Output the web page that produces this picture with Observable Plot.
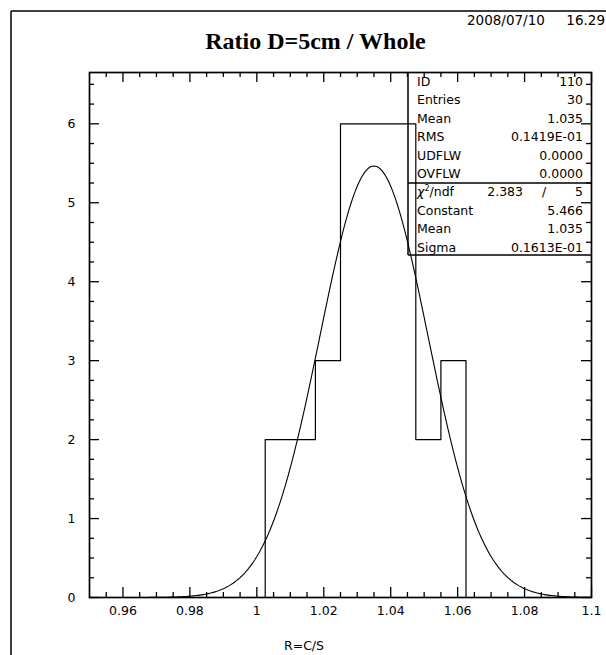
<!DOCTYPE html>
<html>
<head>
<meta charset="utf-8">
<script src="https://cdn.jsdelivr.net/npm/d3@7"></script>
<script src="https://cdn.jsdelivr.net/npm/@observablehq/plot@0.6"></script>
<style>
  html, body { margin: 0; padding: 0; background: #fff; }
  #wrap { position: relative; width: 606px; height: 655px; overflow: hidden; background: #fff; }
  #wrap svg { position: absolute; left: 0; top: 0; }
  #overlay { pointer-events: none; }
</style>
</head>
<body>
<div id="wrap"></div>
<script>
// ---- data ----
const binEdges = [1.0025, 1.01, 1.0175, 1.025, 1.0325, 1.04, 1.0475, 1.055, 1.0625];
const binCounts = [2, 2, 3, 6, 6, 6, 2, 3];

// fitted Gaussian parameters (from the stats box)
const fitConstant = 5.466;
const fitMean = 1.035;
const fitSigma = 0.01613;

// axis ticks and labels
const xMajor = [0.96, 0.98, 1.0, 1.02, 1.04, 1.06, 1.08, 1.1];
const xTickLabels = ["0.96", "0.98", "1", "1.02", "1.04", "1.06", "1.08", "1.1"];
const yMajor = [0, 1, 2, 3, 4, 5, 6];
const yTickLabels = ["0", "1", "2", "3", "4", "5", "6"];

// stats box text
const statLabels = ["ID", "Entries", "Mean", "RMS", "UDFLW", "OVFLW"];
const statValues = ["110", "30", "1.035", "0.1419E-01", "0.0000", "0.0000"];
const chiValue = "2.383";
const ndfValue = "5";
const fitLabels = ["Constant", "Mean", "Sigma"];
const fitValues = ["5.466", "1.035", "0.1613E-01"];

const titleText = "Ratio D=5cm / Whole";
const dateText = "2008/07/10";
const timeText = "16.29";
const xLabel = "R=C/S";

// ---- layout ----
const W = 606, H = 655;
const mL = 89, mR = 15, mT = 72, mB = 58;
const innerW = W - mL - mR, innerH = H - mT - mB;
const xDomain = [0.95, 1.1];
const yDomain = [0, 6.65];

// histogram outline (step)
const histPts = [{x: binEdges[0], y: 0}];
binCounts.forEach((c, i) => histPts.push({x: binEdges[i], y: c}));
histPts.push({x: binEdges[binEdges.length - 1], y: binCounts[binCounts.length - 1]});
histPts.push({x: binEdges[binEdges.length - 1], y: 0});

// fit curve evaluated from the fitted parameters
const fitPts = d3.range(xDomain[0], xDomain[1] + 1e-9, 0.0005).map(x => ({
  x, y: fitConstant * Math.exp(-0.5 * ((x - fitMean) / fitSigma) ** 2)
}));

// minor ticks (axis subdivisions)
const xMinor = d3.range(0.955, 1.1, 0.005).filter(v => !xMajor.some(m => Math.abs(m - v) < 1e-6));
const yMinor = d3.range(0.25, 6.65, 0.25).filter(v => Math.abs(v - Math.round(v)) > 1e-6);

const majorLen = 10, minorLen = 5, tw = 1.3;

const chart = Plot.plot({
  width: W, height: H,
  marginLeft: mL, marginRight: mR, marginTop: mT, marginBottom: mB,
  x: {domain: xDomain, axis: null},
  y: {domain: yDomain, axis: null},
  style: {fontFamily: "DejaVu Sans", fontSize: "12.5px", background: "transparent", color: "black"},
  marks: [
    Plot.line(histPts, {x: "x", y: "y", curve: "step-after", stroke: "black", strokeWidth: 1.2}),
    Plot.line(fitPts, {x: "x", y: "y", stroke: "black", strokeWidth: 1.1, clip: true}),
    // bottom ticks (inward)
    Plot.ruleX(xMajor, {x: d => d, insetTop: innerH - majorLen, strokeWidth: tw}),
    Plot.ruleX(xMinor, {x: d => d, insetTop: innerH - minorLen, strokeWidth: tw}),
    // top ticks (inward)
    Plot.ruleX(xMajor, {x: d => d, insetBottom: innerH - majorLen, strokeWidth: tw}),
    Plot.ruleX(xMinor, {x: d => d, insetBottom: innerH - minorLen, strokeWidth: tw}),
    // left ticks
    Plot.ruleY(yMajor, {y: d => d, insetRight: innerW - majorLen, strokeWidth: tw}),
    Plot.ruleY(yMinor, {y: d => d, insetRight: innerW - minorLen, strokeWidth: tw}),
    // right ticks
    Plot.ruleY(yMajor, {y: d => d, insetLeft: innerW - majorLen, strokeWidth: tw}),
    Plot.ruleY(yMinor, {y: d => d, insetLeft: innerW - minorLen, strokeWidth: tw}),
    Plot.frame({stroke: "black", strokeWidth: 1.7}),
    Plot.text(xMajor, {x: d => d, text: (d, i) => xTickLabels[i], frameAnchor: "bottom", lineAnchor: "top", dy: 9, fill: "black"}),
    Plot.text(yMajor, {y: d => d, text: (d, i) => yTickLabels[i], frameAnchor: "left", textAnchor: "end", dx: -14, fill: "black"})
  ]
});
document.getElementById("wrap").appendChild(chart);

// ---- overlay: page border, title, date, x label, stats box ----
const ov = d3.select("#wrap").append("svg").attr("id", "overlay")
  .attr("width", W).attr("height", H);

ov.append("line").attr("x1", 11).attr("y1", 11).attr("x2", W).attr("y2", 11)
  .attr("stroke", "black").attr("stroke-width", 1.5);
ov.append("line").attr("x1", 11).attr("y1", 11).attr("x2", 11).attr("y2", H)
  .attr("stroke", "black").attr("stroke-width", 1.5);

ov.append("text").attr("x", 315.5).attr("y", 49).attr("text-anchor", "middle")
  .attr("font-family", "Liberation Serif, Times New Roman, serif").attr("font-weight", "bold")
  .attr("font-size", 24).text(titleText);

ov.append("text").attr("x", 467).attr("y", 25).attr("font-family", "DejaVu Sans")
  .attr("font-size", 13.5).text(dateText);
ov.append("text").attr("x", 605).attr("y", 25).attr("text-anchor", "end").attr("font-family", "DejaVu Sans")
  .attr("font-size", 13.5).text(timeText);

ov.append("text").attr("x", 304).attr("y", 650).attr("text-anchor", "middle")
  .attr("font-family", "DejaVu Sans").attr("font-size", 12.5).text(xLabel);

// stats box
const bx0 = 408, bx1 = W - mR, by0 = mT, bySep = 183, by1 = 255;
const box = ov.append("g").attr("stroke", "black").attr("stroke-width", 1.5).attr("fill", "none");
box.append("line").attr("x1", bx0).attr("y1", by0).attr("x2", bx0).attr("y2", by1);
box.append("line").attr("x1", bx0).attr("y1", by1).attr("x2", bx1).attr("y2", by1);
box.append("line").attr("x1", bx0).attr("y1", bySep).attr("x2", bx1).attr("y2", bySep);

const rowH = 18.4, base0 = 86;
const tg = ov.append("g").attr("font-family", "DejaVu Sans").attr("font-size", 12.5).attr("fill", "black");
const labX = 417, valX = 583;
statLabels.forEach((l, i) => {
  tg.append("text").attr("x", labX).attr("y", base0 + i * rowH).text(l);
  tg.append("text").attr("x", valX).attr("y", base0 + i * rowH).attr("text-anchor", "end").text(statValues[i]);
});
const chiRow = base0 + 6 * rowH;
const chiT = tg.append("text").attr("x", labX).attr("y", chiRow);
chiT.append("tspan").attr("font-style", "italic").text("χ");
chiT.append("tspan").attr("font-size", 8).attr("dy", -5).text("2");
chiT.append("tspan").attr("dy", 5).text("/ndf");
tg.append("text").attr("x", 523).attr("y", chiRow).attr("text-anchor", "end").text(chiValue);
tg.append("text").attr("x", 544).attr("y", chiRow).attr("text-anchor", "middle").text("/");
tg.append("text").attr("x", valX).attr("y", chiRow).attr("text-anchor", "end").text(ndfValue);
fitLabels.forEach((l, i) => {
  const y = base0 + (7 + i) * rowH;
  tg.append("text").attr("x", labX).attr("y", y).text(l);
  tg.append("text").attr("x", valX).attr("y", y).attr("text-anchor", "end").text(fitValues[i]);
});
</script>
</body>
</html>
